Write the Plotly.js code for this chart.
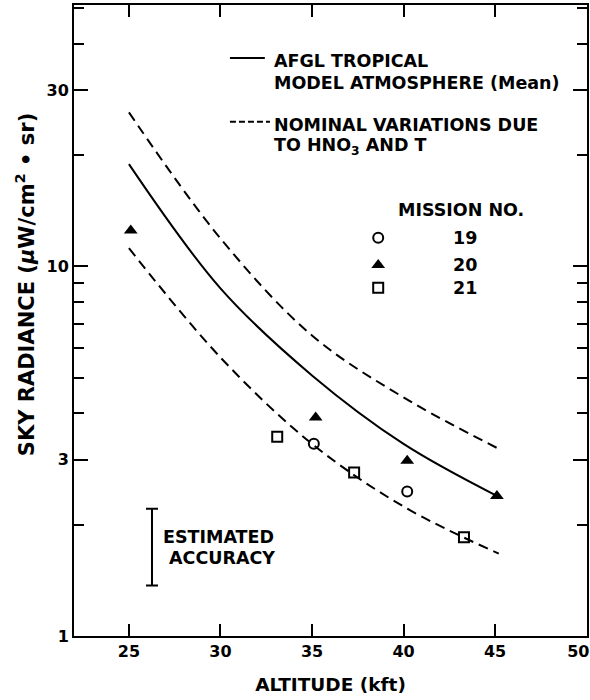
<!DOCTYPE html>
<html>
<head>
<meta charset="utf-8">
<script src="https://cdn.plot.ly/plotly-3.0.1.min.js"></script>
<style>
  html, body { margin: 0; padding: 0; background: #fff; }
  #chart { width: 590px; height: 700px; }
</style>
</head>
<body>
<div id="chart"></div>
<script>
// Altitude grid (kft) for the model curves
var modelAltitude = [25, 30, 35, 40, 45.2];
var upperAltitude = [25, 30, 35, 40, 45.3];
// AFGL tropical model atmosphere, mean sky radiance (µW/cm²·sr)
var modelMean  = [18.9, 8.72, 5.07, 3.31, 2.38];
// Nominal variations due to HNO3 and T
var modelUpper = [26.1, 11.9, 6.5, 4.42, 3.19];
var modelLower = [11.2, 5.67, 3.31, 2.24, 1.67];

// Measured sky radiance by mission
var m19Alt = [35.1, 40.2];
var m19Rad = [3.31, 2.46];
var m20Alt = [25.1, 35.2, 40.2, 45.1];
var m20Rad = [12.5, 3.9, 2.98, 2.39];
var m21Alt = [33.1, 37.3, 43.3];
var m21Rad = [3.46, 2.77, 1.85];

// Estimated accuracy bar
var accuracyAlt = [26.26];
var accuracyTop = [2.21];
var accuracyBottom = [1.37];

// Axis ticks
var xTicks = [25, 30, 35, 40, 45, 50];
// last label padded so it sits inside the right edge of the figure
var xTickLabels = ['25', '30', '35', '40', '45', '50\u00a0\u00a0\u00a0'];
var yMajorTicks = [1, 3, 10, 30];
var yMajorLabels = ['1', '3', '10', '30'];
var yMinorTicks = [2, 4, 5, 6, 7, 8, 9, 20, 40, 50];

var FONT = 'DejaVu Sans, sans-serif';
var INK = '#000';

var accMid = Math.sqrt(accuracyTop[0] * accuracyBottom[0]);

var traces = [
  { x: upperAltitude, y: modelUpper, mode: 'lines', line: { color: INK, width: 2, dash: '10px,6px', shape: 'spline', smoothing: 1 }, hoverinfo: 'skip' },
  { x: modelAltitude, y: modelMean, mode: 'lines', line: { color: INK, width: 2, shape: 'spline', smoothing: 1 }, hoverinfo: 'skip' },
  { x: modelAltitude, y: modelLower, mode: 'lines', line: { color: INK, width: 2, dash: '10px,6px', shape: 'spline', smoothing: 1 }, hoverinfo: 'skip' },
  { x: m19Alt, y: m19Rad, mode: 'markers', marker: { symbol: 'circle-open', size: 10, color: INK, line: { width: 2, color: INK } } },
  { x: m20Alt, y: m20Rad, mode: 'markers', marker: { symbol: 'triangle-up', size: 12, color: INK } },
  { x: m21Alt, y: m21Rad, mode: 'markers', marker: { symbol: 'square-open', size: 10, color: INK, line: { width: 2, color: INK } } },
  { x: accuracyAlt, y: [accMid], mode: 'markers', marker: { size: 1, color: 'rgba(0,0,0,0)' },
    error_y: { type: 'data', symmetric: false, array: [accuracyTop[0] - accMid], arrayminus: [accMid - accuracyBottom[0]],
               color: INK, thickness: 2, width: 6 } },
  // key samples, drawn on an overlay in plot-fraction units
  { x: [0.304, 0.372], y: [0.916, 0.916], xaxis: 'x2', yaxis: 'y2', mode: 'lines', line: { color: INK, width: 2 } },
  { x: [0.304, 0.382], y: [0.815, 0.815], xaxis: 'x2', yaxis: 'y2', mode: 'lines', line: { color: INK, width: 2, dash: '6px,3px' } },
  { x: [0.593], y: [0.631], xaxis: 'x2', yaxis: 'y2', mode: 'markers', marker: { symbol: 'circle-open', size: 10, color: INK, line: { width: 2, color: INK } } },
  { x: [0.593], y: [0.588], xaxis: 'x2', yaxis: 'y2', mode: 'markers', marker: { symbol: 'triangle-up', size: 12, color: INK } },
  { x: [0.593], y: [0.552], xaxis: 'x2', yaxis: 'y2', mode: 'markers', marker: { symbol: 'square-open', size: 10, color: INK, line: { width: 2, color: INK } } }
];

function note(text, x, y, extra) {
  var a = { text: text, x: x, y: y, xref: 'paper', yref: 'paper', xanchor: 'left', yanchor: 'middle',
            showarrow: false, font: { family: FONT, size: 17.5, color: INK, weight: 'bold' } };
  for (var k in extra) a[k] = extra[k];
  return a;
}

var layout = {
  width: 590, height: 700,
  margin: { l: 74, r: 3, t: 5, b: 64 },
  paper_bgcolor: '#fff', plot_bgcolor: '#fff',
  showlegend: false,
  font: { family: FONT, color: INK },
  xaxis: {
    range: [22, 50.02], tickmode: 'array', tickvals: xTicks, ticktext: xTickLabels,
    ticks: 'inside', ticklen: 12, tickwidth: 2, tickcolor: INK, ticklabeloverflow: 'allow',
    showline: true, linewidth: 2, linecolor: INK, mirror: 'ticks', showgrid: false, zeroline: false,
    tickfont: { family: FONT, size: 16, color: INK, weight: 'bold' },
    title: { text: 'ALTITUDE (kft)', standoff: 18, font: { family: FONT, size: 18.5, color: INK, weight: 'bold' } }
  },
  yaxis: {
    type: 'log', range: [0, 1.707], tickmode: 'array', tickvals: yMajorTicks, ticktext: yMajorLabels,
    ticks: 'inside', ticklen: 14, tickwidth: 2, tickcolor: INK,
    minor: { tickmode: 'array', tickvals: yMinorTicks, ticks: 'inside', ticklen: 10, tickwidth: 2, tickcolor: INK, showgrid: false },
    showline: true, linewidth: 2, linecolor: INK, mirror: 'ticks', showgrid: false, zeroline: false,
    tickfont: { family: FONT, size: 16, color: INK, weight: 'bold' }
  },
  xaxis2: { overlaying: 'x', range: [0, 1], visible: false, fixedrange: true },
  yaxis2: { overlaying: 'y', range: [0, 1], visible: false, fixedrange: true },
  annotations: [
    note('AFGL TROPICAL', 0.386, 0.911),
    note('MODEL ATMOSPHERE (Mean)', 0.386, 0.876),
    note('NOMINAL VARIATIONS DUE', 0.386, 0.810),
    note('TO HNO<sub>3</sub> AND T', 0.386, 0.775),
    note('MISSION NO.', 0.628, 0.675),
    note('19', 0.735, 0.631),
    note('20', 0.735, 0.588),
    note('21', 0.735, 0.552),
    note('ESTIMATED', 0.170, 0.157),
    note('ACCURACY', 0.182, 0.124),
    note('SKY RADIANCE (<i>µ</i>W/cm<sup>2</sup> • sr)', -0.0955, 0.556,
         { textangle: -90, xanchor: 'center', yanchor: 'middle', font: { family: FONT, size: 21, color: INK, weight: 'bold' } })
  ]
};

Plotly.newPlot('chart', traces, layout, { staticPlot: true, displayModeBar: false });
</script>
</body>
</html>
